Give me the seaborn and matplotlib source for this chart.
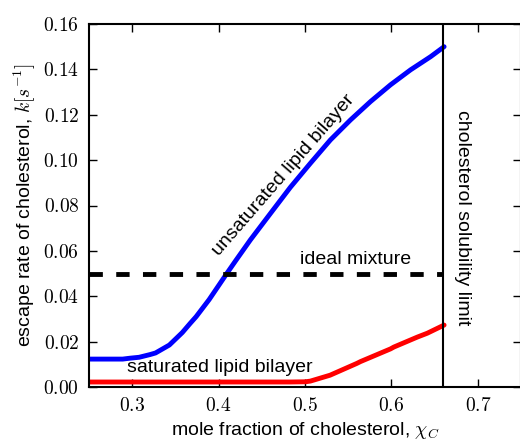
import matplotlib
matplotlib.use("Agg")
import matplotlib.pyplot as plt
import seaborn as sns
from matplotlib.ticker import FuncFormatter, FixedLocator

# ---- data ----
unsat_x = [0.250, 0.289, 0.2975, 0.308, 0.3207, 0.327, 0.343, 0.358, 0.367,
           0.374, 0.389, 0.405, 0.4096, 0.420, 0.4367, 0.460, 0.483, 0.5062,
           0.5294, 0.5526, 0.5758, 0.599, 0.6222, 0.6454, 0.661]
unsat_y = [0.0123, 0.0123, 0.0127, 0.0131, 0.0143, 0.0150, 0.0185, 0.0240,
           0.0280, 0.0310, 0.0385, 0.0475, 0.0501, 0.0558, 0.0648, 0.0765,
           0.0880, 0.0986, 0.1089, 0.1177, 0.1258, 0.1332, 0.1398, 0.1456,
           0.1500]

sat_x = [0.250, 0.483, 0.5004, 0.5062, 0.529, 0.560, 0.5642, 0.599, 0.6028,
         0.630, 0.6415, 0.661]
sat_y = [0.0022, 0.0022, 0.0023, 0.0026, 0.0052, 0.0104, 0.0112, 0.0168,
         0.0176, 0.0220, 0.0237, 0.0273]

ideal_x = [0.25, 0.66]
ideal_y = [0.05, 0.05]

limit_x = 0.66

x_ticks = [0.3, 0.4, 0.5, 0.6, 0.7]
y_ticks = [0.00, 0.02, 0.04, 0.06, 0.08, 0.10, 0.12, 0.14, 0.16]

# ---- style ----
sns.set_style("ticks")
plt.rcParams["font.family"] = ["Liberation Sans", "DejaVu Sans"]
plt.rcParams["mathtext.fontset"] = "cm"
plt.rcParams["text.color"] = "black"
plt.rcParams["axes.labelcolor"] = "black"
plt.rcParams["xtick.color"] = "black"
plt.rcParams["ytick.color"] = "black"
plt.rcParams["axes.edgecolor"] = "black"
plt.rcParams["lines.solid_joinstyle"] = "round"

fig = plt.figure(figsize=(5.2, 4.43), dpi=100)
ax = fig.add_axes([89 / 520, 56 / 443, 432 / 520, 363 / 443])

sns.lineplot(x=unsat_x, y=unsat_y, color="blue", linewidth=3.5, ax=ax,
             estimator=None, sort=False)
sns.lineplot(x=sat_x, y=sat_y, color="red", linewidth=3.5, ax=ax,
             estimator=None, sort=False)
sns.lineplot(x=ideal_x, y=ideal_y, color="black", linewidth=3.5, ax=ax,
             estimator=None, sort=False, dashes=False)
ax.lines[-1].set_dashes([2.75, 2.75])
ax.axvline(limit_x, color="black", linewidth=1.5)

ax.set_xlim(0.25, 0.75)
ax.set_ylim(0.0, 0.16)
ax.xaxis.set_major_locator(FixedLocator(x_ticks))
ax.yaxis.set_major_locator(FixedLocator(y_ticks))
ax.xaxis.set_major_formatter(FuncFormatter(lambda v, p: r"$%.1f$" % v))
ax.yaxis.set_major_formatter(FuncFormatter(lambda v, p: r"$%.2f$" % v))
ax.tick_params(direction="in", top=True, right=True, length=6, width=1,
               labelsize=14, pad=7)
for s in ax.spines.values():
    s.set_linewidth(1.5)
    s.set_visible(True)

ax.set_xlabel(r"mole fraction of cholesterol, $\chi_C$", fontsize=14)
ax.set_ylabel(r"escape rate of cholesterol, $k[s^{-1}]$", fontsize=14)

ax.text(0.4753, 0.0935, "unsaturated lipid bilayer", rotation=49,
        ha="center", va="center", rotation_mode="anchor", fontsize=14)
ax.text(0.401, 0.0048, "saturated lipid bilayer", ha="center", va="bottom",
        fontsize=14)
ax.text(0.559, 0.0525, "ideal mixture", ha="center", va="bottom", fontsize=14)
ax.text(0.6825, 0.0745, "cholesterol solubility limit", rotation=-90,
        ha="center", va="center", fontsize=14)

fig.savefig("out.png", dpi=100)
